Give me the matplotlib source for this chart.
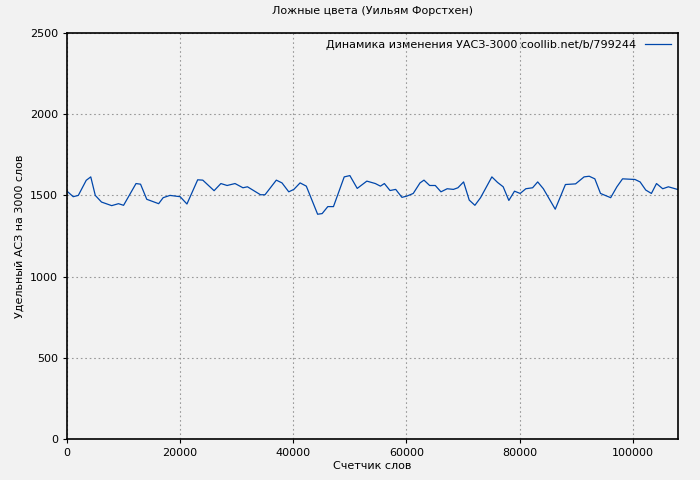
import matplotlib.pyplot as plt

words = [0, 1100, 2000, 3400, 4200, 5000, 6100, 7900, 9100, 10000, 12200, 13000, 14100,
         16200, 17000, 18200, 20000, 21200, 23100, 24000, 26000, 27200, 28300, 29700,
         31100, 31900, 34200, 35000, 37000, 38000, 39200, 40100, 41200, 42300, 44300,
         45100, 46100, 47100, 49000, 50000, 51300, 53000, 54500, 55400, 56100, 57100,
         58100, 59200, 60100, 61200, 62400, 63100, 64100, 65100, 66100, 67200, 68300,
         69100, 70100, 71100, 72100, 73100, 75100, 76100, 77100, 78100, 79100, 80100,
         81100, 82300, 83200, 84200, 86300, 88100, 89900, 91400, 92300, 93300, 94300,
         96100, 97200, 98200, 100400, 101300, 102300, 103300, 104200, 105300, 106300, 107900]
uasz = [1526, 1492, 1500, 1593, 1614, 1500, 1459, 1437, 1449, 1439, 1573, 1569, 1476,
        1449, 1486, 1500, 1492, 1447, 1596, 1594, 1529, 1573, 1561, 1573,
        1547, 1553, 1504, 1504, 1594, 1577, 1522, 1537, 1577, 1557, 1384,
        1388, 1431, 1431, 1614, 1622, 1543, 1588, 1573, 1557, 1573, 1530,
        1537, 1488, 1496, 1512, 1577, 1594, 1561, 1561, 1522, 1541, 1537,
        1547, 1583, 1471, 1439, 1486, 1614, 1580, 1553, 1469, 1526, 1512,
        1541, 1547, 1583, 1541, 1415, 1567, 1571, 1614, 1618, 1602, 1512,
        1486, 1553, 1602, 1598, 1583, 1533, 1512, 1573, 1541, 1553, 1537]

bg = '#f2f2f2'
fig = plt.figure(figsize=(7, 4.8), dpi=100, facecolor=bg)
ax = fig.add_axes([67/700, 41/480, 611/700, 406/480], facecolor=bg)
ax.plot(words, uasz, color='#0047ab', lw=0.9,
        label='Динамика изменения УАСЗ-3000 coollib.net/b/799244')
ax.set_xlim(0, 108000)
ax.set_ylim(0, 2500)
ax.set_xticks(range(0, 100001, 20000))
ax.set_yticks(range(0, 2501, 500))
ax.grid(True, color='#999999', ls=(0, (1.5, 2.5)), lw=0.8)
ax.tick_params(labelsize=8, direction='out', length=3)
for s in ax.spines.values():
    s.set_linewidth(1.2)
ax.set_title('Ложные цвета (Уильям Форстхен)', fontsize=8, pad=14)
ax.set_xlabel('Счетчик слов', fontsize=8, labelpad=2)
ax.set_ylabel('Удельный АСЗ на 3000 слов', fontsize=8)
ax.legend(loc='upper right', fontsize=8, frameon=False, markerfirst=False,
          handlelength=2.4, borderaxespad=0.2)
fig.savefig('out.png', facecolor=bg)
